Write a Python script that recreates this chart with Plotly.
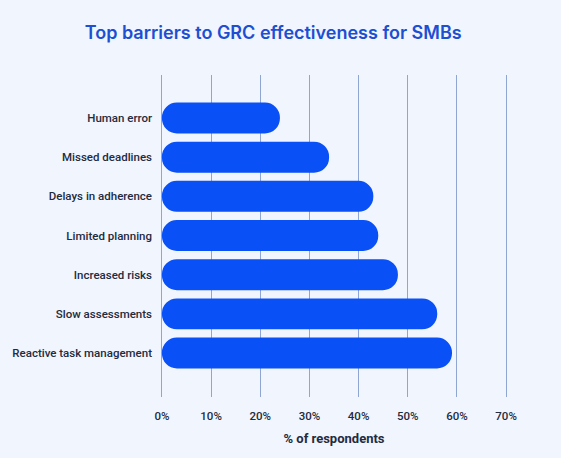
import plotly.graph_objects as go

categories = ["Human error", "Missed deadlines", "Delays in adherence", "Limited planning",
              "Increased risks", "Slow assessments", "Reactive task management"]
values = [24, 34, 43, 44, 48, 56, 59]
tick_vals = [0, 10, 20, 30, 40, 50, 60, 70]
tick_text = ["0%", "10%", "20%", "30%", "40%", "50%", "60%", "70%"]

BAR = "#0A50F7"
BG = "#F1F5FE"
GRID = "#8FA5D2"
TXT = "#232B3E"

# draw each bar from its value back to zero so both ends get the round cap
neg_values = [-v for v in values]

fig = go.Figure()
fig.add_trace(go.Bar(y=categories, x=neg_values, base=values, orientation="h",
                     marker=dict(color=BAR, cornerradius="50%", line=dict(width=0)),
                     width=0.79, hoverinfo="skip"))

fig.update_layout(
    width=561, height=458,
    barmode="overlay",
    showlegend=False,
    paper_bgcolor=BG, plot_bgcolor=BG,
    margin=dict(l=157, r=50, t=75, b=61),
    title=dict(text="Top barriers to GRC effectiveness for SMBs",
               x=0.487, xanchor="center", y=1 - 33 / 458, yanchor="middle",
               font=dict(family="Inter", size=18, color="#1C4FD2", weight=600)),
    xaxis=dict(range=[-1, 71], tickvals=tick_vals, ticktext=tick_text,
               showgrid=True, gridcolor=GRID, gridwidth=1, zeroline=False,
               showline=False, ticks="", ticklabelstandoff=10,
               tickfont=dict(family="Roboto", size=11.5, color=TXT, weight=500),
               title=dict(text="% of respondents", standoff=12,
                          font=dict(family="Roboto", size=13, color=TXT, weight=700))),
    yaxis=dict(type="category", categoryorder="array", categoryarray=categories,
               range=[7.123, -1.098], showgrid=False, zeroline=False, showline=False,
               ticks="", ticklabelstandoff=4,
               tickfont=dict(family="Roboto", size=11.5, color=TXT, weight=500)),
)

fig.write_html("out.html", config={"displayModeBar": False},
               post_script="document.body.style.margin='0';document.body.style.padding='0';")
